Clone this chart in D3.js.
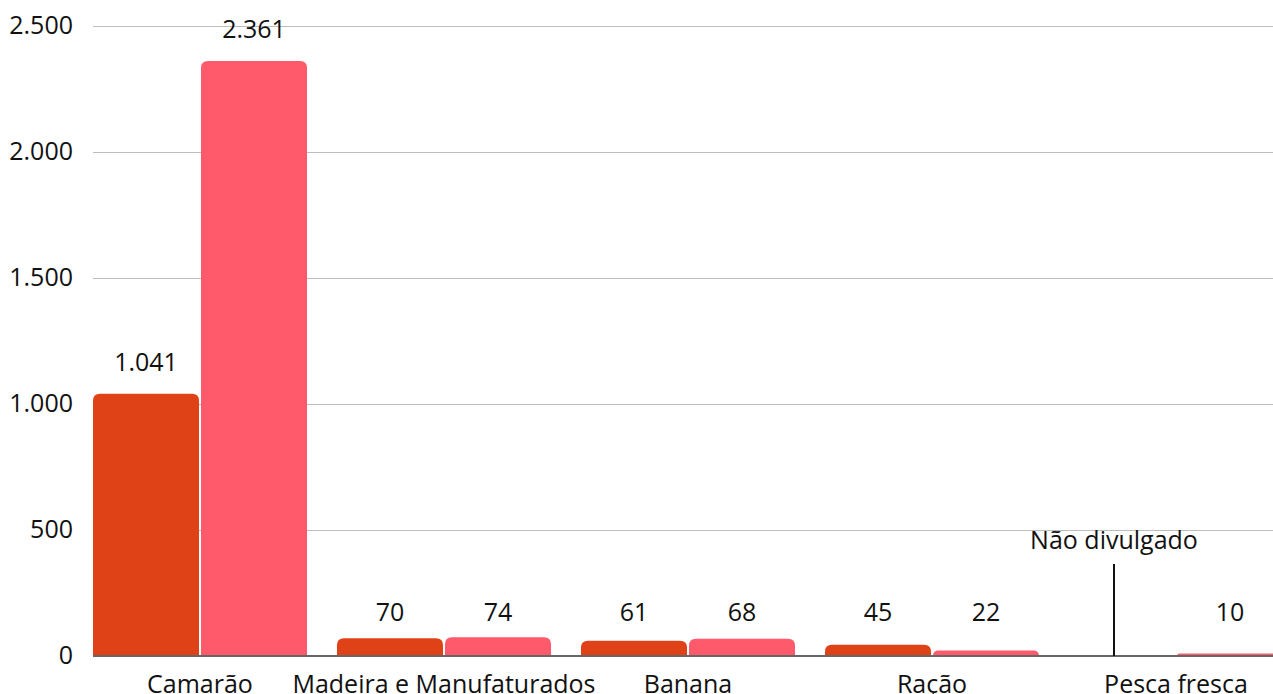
<!DOCTYPE html>
<html>
<head>
<meta charset="utf-8">
<script src="https://cdn.jsdelivr.net/npm/d3@7"></script>
<style>
  html, body { margin: 0; padding: 0; background: #fff; }
  svg { display: block; font-family: "Open Sans", "Noto Sans", sans-serif; }
</style>
</head>
<body>
<svg id="chart" width="1273" height="694"></svg>
<script>
// categories and series
var categories = ['Camarão', 'Madeira e Manufaturados', 'Banana', 'Ração', 'Pesca fresca'];
var seriesNames = ['a', 'b'];
var seriesA = [1041, 70, 61, 45, null];
var seriesB = [2361, 74, 68, 22, 10];
var yTicks = [0, 500, 1000, 1500, 2000, 2500];
var missingLabel = 'Não divulgado';

var colors = { a: '#df4217', b: '#ff5a6b' };

var width = 1273, height = 694;
var plotLeft = 93, plotRight = 1273;
var fontSize = 25;

var svg = d3.select('#chart');

// pt-BR number format
var locale = d3.formatLocale({ decimal: ',', thousands: '.', grouping: [3], currency: ['R$', ''] });
var fmt = locale.format(',d');

var y = d3.scaleLinear().domain([0, 2500]).range([656, 26]);

var x = d3.scaleBand()
  .domain(categories)
  .range([78, 1298])
  .paddingInner(30 / 244)
  .paddingOuter(15 / 244);

var xs = d3.scaleBand()
  .domain(seriesNames)
  .range([0, x.bandwidth()])
  .paddingInner(2 / 108);

// gridlines
svg.append('g')
  .selectAll('line')
  .data(yTicks.filter(function(d){ return d > 0; }))
  .join('line')
    .attr('x1', plotLeft)
    .attr('x2', plotRight)
    .attr('y1', function(d){ return y(d) + 0.5; })
    .attr('y2', function(d){ return y(d) + 0.5; })
    .attr('stroke', '#bdbdbd')
    .attr('stroke-width', 1);

// y labels
svg.append('g')
  .selectAll('text')
  .data(yTicks)
  .join('text')
    .attr('x', 73)
    .attr('y', function(d){ return y(d) + 1; })
    .attr('text-anchor', 'end')
    .attr('dominant-baseline', 'middle')
    .attr('font-size', fontSize)
    .attr('fill', '#111')
    .text(function(d){ return fmt(d); });

// bar with rounded top corners
function barPath(x0, w, yTop, yBase, r) {
  var h = yBase - yTop;
  r = Math.min(r, h, w / 2);
  return 'M' + x0 + ',' + yBase +
    'V' + (yTop + r) +
    'Q' + x0 + ',' + yTop + ' ' + (x0 + r) + ',' + yTop +
    'H' + (x0 + w - r) +
    'Q' + (x0 + w) + ',' + yTop + ' ' + (x0 + w) + ',' + (yTop + r) +
    'V' + yBase + 'Z';
}

var rows = [];
categories.forEach(function(c, i){
  rows.push({ cat: c, s: 'a', v: seriesA[i] });
  rows.push({ cat: c, s: 'b', v: seriesB[i] });
});

var bars = svg.append('g');
rows.filter(function(d){ return d.v != null; }).forEach(function(d){
  var bx = x(d.cat) + xs(d.s);
  var barH = y(0) - y(d.v);
  bars.append('path')
    .attr('d', barPath(bx, xs.bandwidth(), y(d.v), y(0), 7))
    .attr('fill', colors[d.s]);
  // labels of short bars sit on a common line
  bars.append('text')
    .attr('x', bx + xs.bandwidth() / 2)
    .attr('y', barH < 40 ? y(0) - 35 : y(d.v) - 23)
    .attr('text-anchor', 'middle')
    .attr('font-size', fontSize)
    .attr('fill', '#111')
    .text(fmt(d.v));
});

// baseline
svg.append('line')
  .attr('x1', plotLeft)
  .attr('x2', plotRight)
  .attr('y1', y(0))
  .attr('y2', y(0))
  .attr('stroke', '#666')
  .attr('stroke-width', 2);

// category labels
svg.append('g')
  .selectAll('text')
  .data(categories)
  .join('text')
    .attr('x', function(d){ return x(d) + x.bandwidth() / 2; })
    .attr('y', 693)
    .attr('text-anchor', 'middle')
    .attr('font-size', fontSize)
    .attr('fill', '#111')
    .text(function(d){ return d; });

// annotation for missing value
rows.filter(function(d){ return d.v == null; }).forEach(function(d){
  var ax = x(d.cat) + xs(d.s) + xs.bandwidth() / 2 - 8;
  svg.append('line')
    .attr('x1', ax).attr('x2', ax)
    .attr('y1', 564).attr('y2', y(0))
    .attr('stroke', '#111')
    .attr('stroke-width', 2);
  svg.append('text')
    .attr('x', ax)
    .attr('y', 549)
    .attr('text-anchor', 'middle')
    .attr('font-size', fontSize)
    .attr('fill', '#111')
    .text(missingLabel);
});
</script>
</body>
</html>
